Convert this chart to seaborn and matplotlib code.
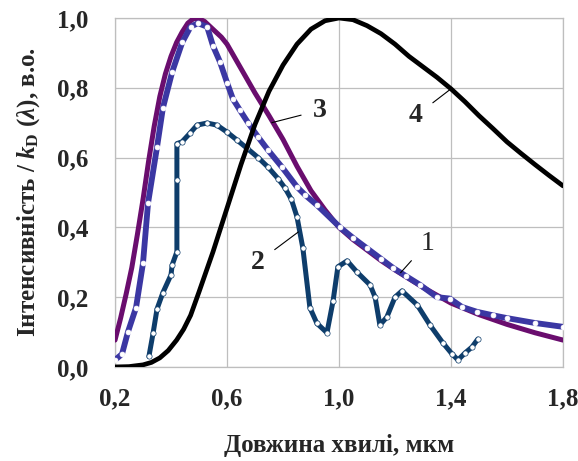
import matplotlib
matplotlib.use("Agg")
import matplotlib.pyplot as plt
import seaborn as sns

# %% Data
wl_1 = [0.200, 0.225, 0.246, 0.275, 0.300, 0.318, 0.350, 0.371, 0.404, 0.440,
        0.470, 0.496, 0.529, 0.550, 0.575, 0.600, 0.621, 0.646, 0.675, 0.711,
        0.746, 0.796, 0.850, 0.880, 0.921, 1.004, 1.050, 1.100, 1.150, 1.193,
        1.240, 1.290, 1.350, 1.396, 1.439, 1.493, 1.550, 1.600, 1.700, 1.800]
int_1 = [0.020, 0.037, 0.100, 0.170, 0.298, 0.470, 0.630, 0.742, 0.845, 0.930,
         0.975, 0.985, 0.975, 0.920, 0.874, 0.815, 0.768, 0.736, 0.700, 0.659,
         0.622, 0.573, 0.516, 0.492, 0.464, 0.400, 0.370, 0.340, 0.310, 0.284,
         0.260, 0.235, 0.200, 0.196, 0.172, 0.158, 0.148, 0.140, 0.126, 0.115]

wl_2 = [0.321, 0.336, 0.350, 0.371, 0.400, 0.404, 0.421, 0.421, 0.421, 0.439,
        0.468, 0.493, 0.529, 0.564, 0.600, 0.636, 0.671, 0.711, 0.746, 0.782,
        0.807, 0.830, 0.850, 0.871, 0.896, 0.921, 0.957, 0.979, 0.996, 1.029,
        1.064, 1.111, 1.129, 1.146, 1.171, 1.200, 1.225, 1.279, 1.325, 1.371,
        1.404, 1.425, 1.450, 1.475, 1.496]
int_2 = [0.030, 0.097, 0.166, 0.213, 0.264, 0.292, 0.330, 0.536, 0.640, 0.645,
         0.670, 0.693, 0.699, 0.693, 0.673, 0.650, 0.627, 0.600, 0.573, 0.540,
         0.513, 0.480, 0.430, 0.340, 0.170, 0.125, 0.098, 0.190, 0.287, 0.304,
         0.272, 0.235, 0.200, 0.120, 0.143, 0.200, 0.218, 0.178, 0.120, 0.069,
         0.037, 0.020, 0.040, 0.057, 0.080]

wl_3 = [0.200, 0.220, 0.240, 0.260, 0.280, 0.300, 0.320, 0.340, 0.360, 0.380,
        0.400, 0.420, 0.440, 0.460, 0.480, 0.500, 0.520, 0.540, 0.560, 0.580,
        0.600, 0.650, 0.700, 0.750, 0.800, 0.850, 0.900, 0.950, 1.000, 1.050,
        1.100, 1.150, 1.200, 1.300, 1.400, 1.500, 1.600, 1.700, 1.800]
int_3 = [0.077, 0.140, 0.210, 0.285, 0.380, 0.480, 0.590, 0.690, 0.775, 0.840,
         0.890, 0.930, 0.960, 0.985, 0.998, 0.998, 0.990, 0.975, 0.960, 0.945,
         0.925, 0.855, 0.785, 0.720, 0.652, 0.575, 0.505, 0.450, 0.400, 0.365,
         0.335, 0.305, 0.278, 0.228, 0.183, 0.150, 0.122, 0.098, 0.077]

wl_4 = [0.200, 0.250, 0.300, 0.330, 0.360, 0.390, 0.420, 0.445, 0.470, 0.500,
        0.550, 0.600, 0.650, 0.700, 0.750, 0.800, 0.850, 0.900, 0.950, 1.000,
        1.050, 1.100, 1.150, 1.200, 1.250, 1.300, 1.350, 1.400, 1.450, 1.500,
        1.550, 1.600, 1.650, 1.700, 1.750, 1.800]
int_4 = [0.000, 0.001, 0.006, 0.013, 0.026, 0.047, 0.077, 0.108, 0.148, 0.215,
         0.330, 0.455, 0.580, 0.695, 0.790, 0.865, 0.925, 0.968, 0.992, 1.000,
         0.995, 0.978, 0.955, 0.925, 0.890, 0.860, 0.830, 0.797, 0.760, 0.720,
         0.683, 0.645, 0.612, 0.580, 0.549, 0.519]

x_ticks = [0.2, 0.6, 1.0, 1.4, 1.8]
x_ticklabels = ["0,2", "0,6", "1,0", "1,4", "1,8"]
y_ticks = [0.0, 0.2, 0.4, 0.6, 0.8, 1.0]
y_ticklabels = ["0,0", "0,2", "0,4", "0,6", "0,8", "1,0"]

# %% Style
sns.set_theme(style="whitegrid")
plt.rcParams["font.family"] = ["Liberation Serif", "DejaVu Serif"]
plt.rcParams["font.weight"] = "bold"
plt.rcParams["mathtext.fontset"] = "custom"
plt.rcParams["mathtext.rm"] = "Liberation Serif:bold"
plt.rcParams["mathtext.it"] = "Liberation Serif:italic:bold"
plt.rcParams["mathtext.bf"] = "Liberation Serif:bold"
plt.rcParams["lines.solid_joinstyle"] = "round"

fig = plt.figure(figsize=(5.78, 4.61), dpi=100)
ax = fig.add_axes([0.199, 0.204, 0.775, 0.757])

purple = "#6A0D6E"
blue = "#3B37A3"
navy = "#0E3D6B"

sns.lineplot(x=wl_3, y=int_3, color=purple, linewidth=3.6, sort=False,
             estimator=None, ax=ax, zorder=3)
sns.lineplot(x=wl_1, y=int_1, color=blue, linewidth=4.2, sort=False,
             estimator=None, marker="o", markersize=3.5, markerfacecolor="white",
             markeredgecolor="white", markeredgewidth=0.5, ax=ax, zorder=4)
sns.lineplot(x=wl_2, y=int_2, color=navy, linewidth=3.6, sort=False,
             estimator=None, marker="o", markersize=3.8, markerfacecolor="white",
             markeredgecolor=navy, markeredgewidth=0.5, ax=ax, zorder=5)
sns.lineplot(x=wl_4, y=int_4, color="black", linewidth=3.4, sort=False,
             estimator=None, ax=ax, zorder=6)

ax.set_xlim(0.2, 1.8)
ax.set_ylim(0.0, 1.0)
ax.set_xticks(x_ticks)
ax.set_xticklabels(x_ticklabels)
ax.set_yticks(y_ticks)
ax.set_yticklabels(y_ticklabels)
ax.tick_params(axis="both", labelsize=18, length=0)
ax.tick_params(axis="x", pad=15)
ax.tick_params(axis="y", pad=19)
for lab in ax.get_xticklabels() + ax.get_yticklabels():
    lab.set_fontweight("bold")

ax.grid(True, color="#BEBEBE", linewidth=0.9)
for sp in ax.spines.values():
    sp.set_color("#BEBEBE")
    sp.set_linewidth(0.9)

ax.set_xlabel("Довжина хвилі, мкм", fontsize=18, fontweight="bold", labelpad=17)
ax.set_ylabel(r"Інтенсивність / $k_\mathrm{D}$ ($\lambda$), в.о.",
              fontsize=18, fontweight="bold", labelpad=11)

# curve labels with leader lines
line_kw = dict(arrowstyle="-", color="black", lw=0.8, shrinkA=6, shrinkB=0)
ax.annotate("1", xy=(1.22, 0.27), xytext=(1.315, 0.355), fontsize=20,
            fontweight="normal", ha="center", va="center", arrowprops=line_kw,
            zorder=7)
ax.annotate("2", xy=(0.855, 0.387), xytext=(0.71, 0.30), fontsize=20,
            fontweight="bold", ha="center", va="center", arrowprops=line_kw,
            zorder=7)
ax.annotate("3", xy=(0.76, 0.70), xytext=(0.93, 0.735), fontsize=20,
            fontweight="bold", ha="center", va="center", arrowprops=line_kw,
            zorder=7)
ax.annotate("4", xy=(1.4, 0.797), xytext=(1.275, 0.72), fontsize=20,
            fontweight="bold", ha="center", va="center", arrowprops=line_kw,
            zorder=7)

fig.savefig("out.png", dpi=100)
